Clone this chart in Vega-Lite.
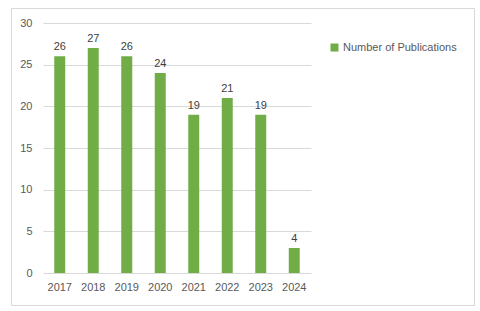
{
  "$schema": "https://vega.github.io/schema/vega-lite/v6.json",
  "width": 463,
  "height": 297,
  "padding": {"left": 11, "top": 8, "right": 6, "bottom": 6},
  "autosize": {"type": "none"},
  "background": "white",
  "config": {
    "view": {"stroke": "#d9d9d9", "strokeWidth": 1},
    "font": "Liberation Sans"
  },
  "data": {
    "values": [
      {"year": "2017", "count": 26, "label": "26"},
      {"year": "2018", "count": 27, "label": "27"},
      {"year": "2019", "count": 26, "label": "26"},
      {"year": "2020", "count": 24, "label": "24"},
      {"year": "2021", "count": 19, "label": "19"},
      {"year": "2022", "count": 21, "label": "21"},
      {"year": "2023", "count": 19, "label": "19"},
      {"year": "2024", "count": 3, "label": "4"}
    ]
  },
  "encoding": {
    "x": {
      "field": "year",
      "type": "ordinal",
      "scale": {"range": [32, 300], "paddingInner": 0.672, "paddingOuter": 0.336},
      "axis": {
        "title": null,
        "labelAngle": 0,
        "offset": -32,
        "domain": false,
        "ticks": false,
        "grid": false,
        "labelPadding": 8,
        "labelColor": "#595959",
        "labelFontSize": 11
      }
    },
    "y": {
      "field": "count",
      "type": "quantitative",
      "scale": {"domain": [0, 30], "range": [265, 15]},
      "axis": {
        "title": null,
        "values": [0, 5, 10, 15, 20, 25, 30],
        "offset": -29,
        "gridScale": "x",
        "gridColor": "#d9d9d9",
        "domain": false,
        "ticks": false,
        "labelPadding": 8,
        "labelColor": "#595959",
        "labelFontSize": 11
      }
    }
  },
  "layer": [
    {
      "mark": {"type": "bar"},
      "encoding": {
        "color": {
          "datum": "Number of Publications",
          "scale": {"range": ["#70ad47"]},
          "legend": {
            "title": null,
            "orient": "none",
            "legendX": 318,
            "legendY": 34,
            "symbolType": "square",
            "symbolSize": 64,
            "symbolStrokeWidth": 0,
            "symbolOpacity": 1,
            "labelFontSize": 11,
            "labelColor": "#595959",
            "labelOffset": 3,
            "padding": 0
          }
        }
      }
    },
    {
      "mark": {"type": "text", "baseline": "bottom", "dy": -4, "color": "#404040", "fontSize": 11},
      "encoding": {"text": {"field": "label"}}
    }
  ]
}
